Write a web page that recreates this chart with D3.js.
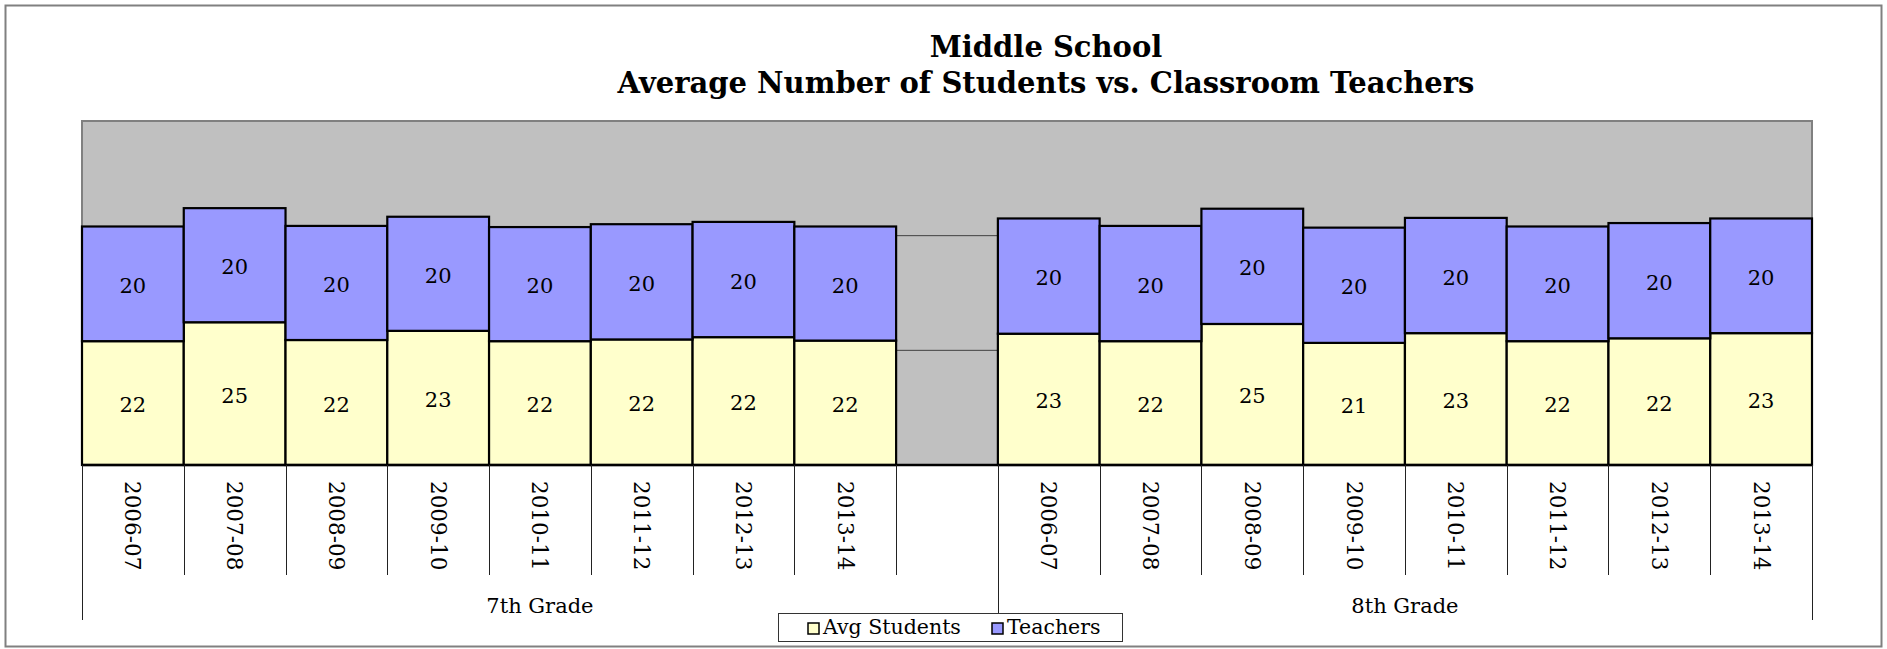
<!DOCTYPE html>
<html>
<head>
<meta charset="utf-8">
<script src="https://cdn.jsdelivr.net/npm/d3@7"></script>
<style>
  body { margin: 0; background: #fff; }
  svg { display: block; }
  text { font-family: "DejaVu Serif", Georgia, serif; fill: #000; }
</style>
</head>
<body>
<div id="chart"></div>
<script>
// data
const years = ["2006-07", "2007-08", "2008-09", "2009-10", "2010-11", "2011-12", "2012-13", "2013-14"];
const grades = ["7th Grade", "8th Grade"];
const students7 = [21.6, 24.9, 21.8, 23.4, 21.6, 21.9, 22.3, 21.7];
const teachers7 = [20.0, 19.9, 19.9, 19.9, 19.9, 20.1, 20.1, 19.9];
const students8 = [22.9, 21.6, 24.6, 21.3, 23.0, 21.6, 22.1, 23.0];
const teachers8 = [20.1, 20.1, 20.1, 20.1, 20.1, 20.0, 20.1, 20.0];
const seriesNames = ["Avg Students", "Teachers"];
const seriesColors = ["#FFFFCC", "#9999FF"];

const W = 1887, H = 649;
const plot = {left: 82, right: 1812, top: 121, bottom: 465};

// rows: 7th grade, empty spacer slot, 8th grade
const rows = [];
years.forEach((yr, i) => rows.push({key: "7-" + yr, year: yr, grade: 0, students: students7[i], teachers: teachers7[i]}));
rows.push({key: "gap", year: "", grade: 0, gap: true});
years.forEach((yr, i) => rows.push({key: "8-" + yr, year: yr, grade: 1, students: students8[i], teachers: teachers8[i]}));

const svg = d3.select("#chart").append("svg")
    .attr("width", W)
    .attr("height", H);

// outer frame
svg.append("rect")
    .attr("x", 5.5).attr("y", 5.5)
    .attr("width", 1876).attr("height", 641)
    .attr("fill", "#fff")
    .attr("stroke", "#808080")
    .attr("stroke-width", 2);

const x = d3.scaleBand()
    .domain(rows.map(d => d.key))
    .range([plot.left, plot.right])
    .padding(0);

const y = d3.scaleLinear()
    .domain([0, 60])
    .range([plot.bottom, plot.top]);

// plot area
svg.append("rect")
    .attr("x", plot.left).attr("y", plot.top)
    .attr("width", plot.right - plot.left)
    .attr("height", plot.bottom - plot.top)
    .attr("fill", "#C0C0C0")
    .attr("stroke", "#808080")
    .attr("stroke-width", 2);

// gridlines (only visible where no bar covers them)
svg.append("g")
    .selectAll("line")
    .data(y.ticks(3).filter(t => t > 0 && t < 60))
    .join("line")
    .attr("x1", plot.left).attr("x2", plot.right)
    .attr("y1", d => y(d)).attr("y2", d => y(d))
    .attr("stroke", "#404040")
    .attr("stroke-width", 1);

// stacked bars
const stack = d3.stack().keys(["students", "teachers"]);
const stacked = stack(rows.filter(d => !d.gap));

const layers = svg.append("g").selectAll("g")
    .data(stacked)
    .join("g")
    .attr("fill", (d, i) => seriesColors[i]);

layers.selectAll("rect")
    .data(d => d)
    .join("rect")
    .attr("x", d => x(d.data.key))
    .attr("width", x.bandwidth())
    .attr("y", d => y(d[1]))
    .attr("height", d => y(d[0]) - y(d[1]))
    .attr("stroke", "#000")
    .attr("stroke-width", 2.2);

layers.selectAll("text")
    .data(d => d)
    .join("text")
    .attr("x", d => x(d.data.key) + x.bandwidth() / 2)
    .attr("y", d => (y(d[0]) + y(d[1])) / 2 + 2)
    .attr("text-anchor", "middle")
    .attr("dominant-baseline", "central")
    .style("font-size", "21px")
    .text(d => Math.round(d[1] - d[0]));

// category axis line
svg.append("line")
    .attr("x1", plot.left).attr("x2", plot.right)
    .attr("y1", plot.bottom).attr("y2", plot.bottom)
    .attr("stroke", "#000")
    .attr("stroke-width", 2.5);

// tick marks between categories
const bounds = rows.map(d => x(d.key)).concat([plot.right]);
const groupStarts = [0, rows.findIndex(d => d.grade === 1), rows.length];
svg.append("g")
    .selectAll("line")
    .data(bounds)
    .join("line")
    .attr("x1", d => Math.round(d) + 0.5).attr("x2", d => Math.round(d) + 0.5)
    .attr("y1", plot.bottom)
    .attr("y2", (d, i) => groupStarts.includes(i) ? 620 : 575)
    .attr("stroke", "#222")
    .attr("stroke-width", 1);

// year labels
svg.append("g")
    .selectAll("text")
    .data(rows.filter(d => !d.gap))
    .join("text")
    .attr("transform", d => `translate(${x(d.key) + x.bandwidth() / 2},481) rotate(90)`)
    .attr("text-anchor", "start")
    .attr("dominant-baseline", "central")
    .style("font-size", "21.5px")
    .text(d => d.year);

// grade labels
svg.append("g")
    .selectAll("text")
    .data(grades)
    .join("text")
    .attr("x", (d, i) => (bounds[groupStarts[i]] + bounds[groupStarts[i + 1]]) / 2)
    .attr("y", 613)
    .attr("text-anchor", "middle")
    .style("font-size", "21px")
    .text(d => d);

// title
const title = svg.append("text")
    .attr("x", 1046)
    .attr("text-anchor", "middle")
    .style("font-weight", "bold")
    .style("font-size", "29px");
title.append("tspan").attr("x", 1046).attr("y", 57).text("Middle School");
title.append("tspan").attr("x", 1046).attr("y", 93).text("Average Number of Students vs. Classroom Teachers");

// legend
const legend = svg.append("g");
legend.append("rect")
    .attr("x", 778.5).attr("y", 613.5)
    .attr("width", 344).attr("height", 28)
    .attr("fill", "#fff")
    .attr("stroke", "#333")
    .attr("stroke-width", 1);

const legendX = [808, 992];
const items = legend.selectAll("g")
    .data(seriesNames)
    .join("g")
    .attr("transform", (d, i) => `translate(${legendX[i]},623)`);
items.append("rect")
    .attr("width", 11).attr("height", 11)
    .attr("fill", (d, i) => seriesColors[i])
    .attr("stroke", "#000")
    .attr("stroke-width", 1.5);
items.append("text")
    .attr("x", 15)
    .attr("y", 11)
    .style("font-size", "20.5px")
    .text(d => d);
</script>
</body>
</html>
